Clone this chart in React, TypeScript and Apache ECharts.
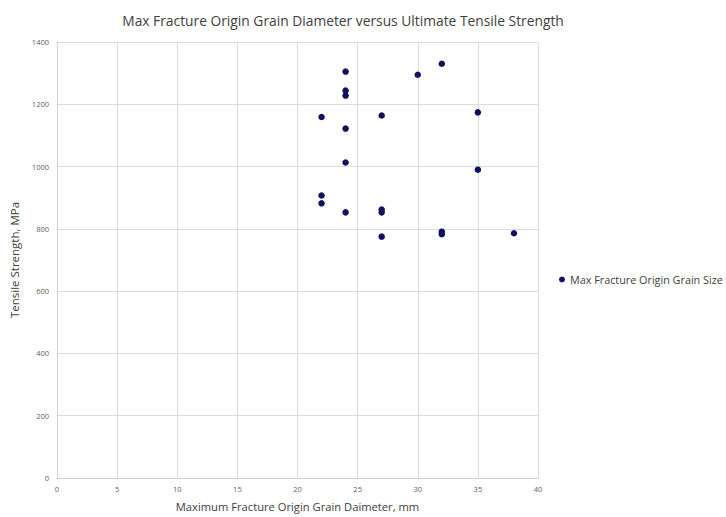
import React, { useEffect, useRef } from "react";
import * as echarts from "echarts";

const grainDiameter = [24, 24, 24, 30, 32, 22, 27, 35, 24, 24, 35, 22, 22, 24, 27, 27, 27, 32, 32, 38];
const tensileStrength = [1305, 1244, 1228, 1295, 1330, 1159, 1164, 1174, 1122, 1013, 990, 907, 882, 853, 862, 853, 775, 791, 783, 786];
const xTicks = [0, 5, 10, 15, 20, 25, 30, 35, 40];
const yTicks = [0, 200, 400, 600, 800, 1000, 1200, 1400];

const seriesName = "Max Fracture Origin Grain Size";
const titleText = "Max Fracture Origin Grain Diameter versus Ultimate Tensile Strength";
const xName = "Maximum Fracture Origin Grain Daimeter, mm";
const yName = "Tensile Strength, MPa";

export default function App() {
  const ref = useRef<HTMLDivElement>(null);
  useEffect(() => {
    document.body.style.margin = "0";
    const chart = echarts.init(ref.current!, null, { renderer: "svg" });
    const font = "'Open Sans', Lato, sans-serif";
    chart.setOption({
      animation: false,
      textStyle: { fontFamily: font },
      title: {
        text: titleText,
        left: 338,
        textAlign: "center",
        top: 8,
        textStyle: { fontSize: 13.8, fontWeight: "normal", color: "#404040", fontFamily: font },
      },
      legend: {
        left: 559,
        top: 274,
        padding: 0,
        itemWidth: 6,
        itemHeight: 6,
        itemGap: 4,
        textStyle: { fontSize: 10.8, color: "#404040", fontFamily: font },
        data: [{ name: seriesName, icon: "circle" }],
      },
      grid: { left: 57, right: 188, top: 42, bottom: 38 },
      xAxis: {
        type: "value",
        min: 0,
        max: 40,
        interval: 5,
        name: xName,
        nameLocation: "middle",
        nameGap: 23,
        nameTextStyle: { fontSize: 11.2, color: "#404040", fontFamily: font },
        axisLine: { show: true, lineStyle: { color: "#d0d0d0" } },
        axisTick: { show: false },
        axisLabel: {
          fontSize: 7.5,
          color: "#606060",
          margin: 7,
          formatter: (v: number) => (xTicks.includes(v) ? String(v) : ""),
        },
        splitLine: { show: true, lineStyle: { color: "#dcdcdc", width: 1 } },
      },
      yAxis: {
        type: "value",
        min: 0,
        max: 1400,
        interval: 200,
        name: yName,
        nameLocation: "middle",
        nameGap: 33,
        nameTextStyle: { fontSize: 11.5, color: "#404040", fontFamily: font },
        axisLine: { show: true, lineStyle: { color: "#d0d0d0" } },
        axisTick: { show: false },
        axisLabel: {
          fontSize: 7.5,
          color: "#606060",
          margin: 8,
          formatter: (v: number) => (yTicks.includes(v) ? String(v) : ""),
        },
        splitLine: { show: true, lineStyle: { color: "#dcdcdc", width: 1 } },
      },
      series: [
        {
          name: seriesName,
          type: "scatter",
          symbol: "circle",
          symbolSize: 6.5,
          itemStyle: { color: "#10105e", opacity: 1 },
          data: grainDiameter.map((x, i) => [x, tensileStrength[i]]),
        },
      ],
    });
    return () => chart.dispose();
  }, []);
  return <div ref={ref} style={{ width: 726, height: 517 }} />;
}
